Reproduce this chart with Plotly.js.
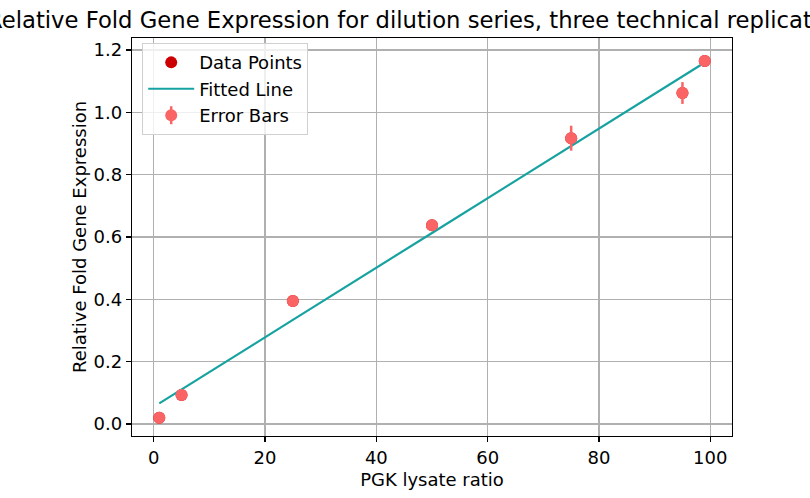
<!DOCTYPE html>
<html>
<head>
<meta charset="utf-8">
<script src="https://cdn.plot.ly/plotly-3.0.1.min.js"></script>
<style>html,body{margin:0;padding:0;background:#fff;}#chart{width:810px;height:498px;}</style>
</head>
<body>
<div id="chart"></div>
<script>
// Data
const ratios = [1, 5, 25, 50, 75, 95, 99];
const expression = [0.020, 0.093, 0.395, 0.638, 0.917, 1.062, 1.165];
const errors = [0.006, 0.008, 0.006, 0.016, 0.040, 0.035, 0.006];
const fitRatios = [1, 5, 25, 50, 75, 95, 99];
const fitValues = [0.066, 0.111, 0.334, 0.613, 0.892, 1.115, 1.160];

const titleText = 'Relative Fold Gene Expression for dilution series, three technical replicates';
const xLabel = 'PGK lysate ratio';
const yLabel = 'Relative Fold Gene Expression';
const xTicks = [0, 20, 40, 60, 80, 100];
const yTicks = [0.0, 0.2, 0.4, 0.6, 0.8, 1.0, 1.2];

const font = 'DejaVu Sans, sans-serif';
const errColor = '#fb6464';

const traces = [
  {
    x: ratios, y: expression, type: 'scatter', mode: 'markers', name: 'Data Points',
    marker: {color: '#cc0000', size: 12}
  },
  {
    x: fitRatios, y: fitValues, type: 'scatter', mode: 'lines', name: 'Fitted Line',
    line: {color: '#17a2a2', width: 2.2}
  },
  {
    x: ratios, y: expression, type: 'scatter', mode: 'markers', name: 'Error Bars',
    marker: {color: errColor, size: 12},
    error_y: {type: 'data', array: errors, visible: true, color: errColor, thickness: 2.5, width: 0}
  }
];

const axisCommon = {
  showline: true, mirror: true, linecolor: '#000', linewidth: 1.2,
  ticks: 'outside', ticklen: 5, tickwidth: 1.2, tickcolor: '#000',
  showgrid: true, gridcolor: '#b0b0b0', gridwidth: 1.2,
  zeroline: false,
  tickfont: {family: font, size: 18, color: '#000'}
};

const layout = {
  width: 810, height: 498,
  margin: {l: 132, r: 78, t: 38, b: 62},
  paper_bgcolor: '#fff', plot_bgcolor: '#fff',
  font: {family: font, color: '#000'},
  title: {text: titleText, x: 0.509, xref: 'container', xanchor: 'center', y: 0.96, yref: 'container', yanchor: 'middle',
          font: {family: font, size: 22.7, color: '#000'}},
  xaxis: Object.assign({}, axisCommon, {
    range: [-3.9, 103.9], tickvals: xTicks, ticktext: xTicks.map(String),
    title: {text: xLabel, font: {family: font, size: 18, color: '#000'}, standoff: 6}
  }),
  yaxis: Object.assign({}, axisCommon, {
    range: [-0.0385, 1.2385], tickvals: yTicks, ticktext: yTicks.map(v => v.toFixed(1)),
    title: {text: yLabel, font: {family: font, size: 18, color: '#000'}, standoff: 2}
  }),
  showlegend: true,
  legend: {
    x: 0.017, y: 0.987, xanchor: 'left', yanchor: 'top',
    itemwidth: 46,
    bgcolor: 'rgba(255,255,255,0.8)', bordercolor: '#d0d0d0', borderwidth: 1,
    font: {family: font, size: 18, color: '#000'}
  }
};

Plotly.newPlot('chart', traces, layout, {displayModeBar: false, staticPlot: true}).then(function (gd) {
  // add the vertical error-bar stroke to the "Error Bars" legend symbol, like matplotlib
  const items = gd.querySelectorAll('.legend .traces');
  if (items.length >= 3) {
    const pts = items[2].querySelector('.legendpoints');
    const marker = pts ? pts.querySelector('path.scatterpts') : null;
    if (pts && marker) {
      const ns = 'http://www.w3.org/2000/svg';
      const p = document.createElementNS(ns, 'path');
      p.setAttribute('d', 'M0,-9V9');
      p.setAttribute('transform', marker.getAttribute('transform') || '');
      p.setAttribute('style', 'stroke:' + errColor + ';stroke-width:2.5px;fill:none');
      pts.insertBefore(p, pts.firstChild);
    }
  }
});
</script>
</body>
</html>
